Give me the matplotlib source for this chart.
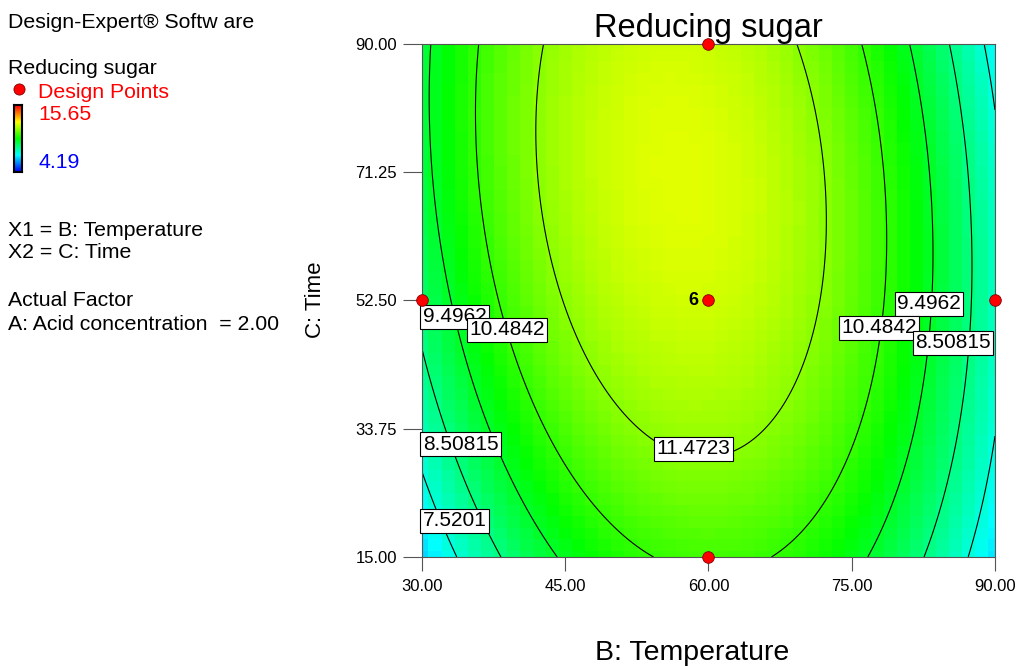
import numpy as np
import matplotlib
matplotlib.use("Agg")
import matplotlib.pyplot as plt
from matplotlib.colors import LinearSegmentedColormap
from matplotlib.lines import Line2D

plt.rcParams['font.family'] = ['Liberation Sans', 'DejaVu Sans']

# quadratic model in coded units (x1 = temperature, x2 = time), A fixed at 2.00
coef_names = ["b0", "b1", "b2", "b12", "b11", "b22"]
coef_vals = [12.25, -0.47, 0.76, -0.58, -3.93, -0.84]

temp_range = [30.0, 90.0]
time_range = [15.0, 90.0]
resp_min, resp_max = 4.19, 15.65

levels = [7.5201, 8.50815, 9.4962, 10.4842, 11.4723]

# design points (temperature, time)
pts_temp = [30, 60, 60, 90, 60]
pts_time = [52.5, 90, 52.5, 52.5, 15]

xticks = [30, 45, 60, 75, 90]
yticks = [15, 33.75, 52.5, 71.25, 90]

# contour label positions (temp, time, text, align)
lbl_temp = [30.1, 38.9, 83.1, 77.85, 85.6, 30.1, 30.1, 58.4]
lbl_time = [50.1, 48.2, 52.0, 48.5, 46.3, 31.5, 20.3, 30.8]
lbl_text = ["9.4962", "10.4842", "9.4962", "10.4842", "8.50815", "8.50815", "7.5201", "11.4723"]
lbl_ha = ["left", "center", "center", "center", "center", "left", "left", "center"]

c = dict(zip(coef_names, coef_vals))

def model(B, C):
    x1 = (B - 60.0) / 30.0
    x2 = (C - 52.5) / 37.5
    return (c["b0"] + c["b1"] * x1 + c["b2"] * x2 + c["b12"] * x1 * x2
            + c["b11"] * x1 ** 2 + c["b22"] * x2 ** 2)

cmap = LinearSegmentedColormap.from_list(
    "de", ["#0000ff", "#00ffff", "#00ff00", "#ffff00", "#ff0000"])

fig = plt.figure(figsize=(10.21, 6.66), dpi=100)
ax = fig.add_axes([0.4133, 0.1637, 0.5612, 0.7703])

# blocky shading like the original
bc = np.linspace(temp_range[0], temp_range[1], 45)
cc = np.linspace(time_range[0], time_range[1], 45)
BB, CC = np.meshgrid(bc, cc)
ax.pcolormesh(BB, CC, model(BB, CC), cmap=cmap, vmin=resp_min, vmax=resp_max,
              shading="nearest")

bf = np.linspace(temp_range[0], temp_range[1], 300)
cf = np.linspace(time_range[0], time_range[1], 300)
BF, CF = np.meshgrid(bf, cf)
ax.contour(BF, CF, model(BF, CF), levels=levels, colors="black", linewidths=0.8)

for t, tm, s, ha in zip(lbl_temp, lbl_time, lbl_text, lbl_ha):
    ax.text(t, tm, s, ha=ha, va="center", fontsize=15, zorder=5,
            bbox=dict(boxstyle="square,pad=0.12", fc="white", ec="black", lw=0.8))

ax.scatter(pts_temp, pts_time, s=70, c="red", edgecolors="#800000", linewidths=0.6,
           zorder=6, clip_on=False)
ax.text(58.9, 52.5, "6", ha="right", va="center", fontsize=13, fontweight="bold")

ax.set_xlim(temp_range)
ax.set_ylim(time_range)
ax.set_xticks(xticks)
ax.set_yticks(yticks)
ax.set_xticklabels([f"{v:.2f}" for v in xticks])
ax.set_yticklabels([f"{v:.2f}" for v in yticks])
ax.tick_params(axis="x", length=10, pad=6, labelsize=12, color="#555555")
ax.tick_params(axis="y", length=14, pad=4, labelsize=12, color="#555555")
for sp in ax.spines.values():
    sp.set_color("#555555")
    sp.set_linewidth(0.8)

ax.set_title("Reducing sugar", fontsize=23.5, pad=2)
fig.text(692 / 1021, 1 - 653 / 666, "B: Temperature", ha="center", va="center", fontsize=20.5)
fig.text(315 / 1021, 1 - 300 / 666, "C: Time", ha="center", va="center",
         fontsize=16, rotation=90)

# left side info panel
fs = 15.3
fig.text(8 / 1021, 1 - 22 / 666, "Design-Expert® Softw are", fontsize=fs, va="center")
fig.text(8 / 1021, 1 - 69 / 666, "Reducing sugar", fontsize=fs, va="center")
fig.add_artist(Line2D([19 / 1021], [1 - 89 / 666], transform=fig.transFigure,
                      marker="o", ms=8, mfc="red", mec="#800000", mew=0.6, ls="none"))
fig.text(38 / 1021, 1 - 92 / 666, "Design Points", fontsize=fs, va="center", color="red")
fig.text(38 / 1021, 1 - 114 / 666, f"{resp_max:.2f}", fontsize=fs, va="center", color="red")
fig.text(38 / 1021, 1 - 162 / 666, f"{resp_min:.2f}", fontsize=fs, va="center", color="blue")
fig.text(8 / 1021, 1 - 230 / 666, "X1 = B: Temperature", fontsize=fs, va="center")
fig.text(8 / 1021, 1 - 253 / 666, "X2 = C: Time", fontsize=fs, va="center")
fig.text(8 / 1021, 1 - 300 / 666, "Actual Factor", fontsize=fs, va="center")
fig.text(8 / 1021, 1 - 324 / 666, "A: Acid concentration  = 2.00", fontsize=fs, va="center")

cax = fig.add_axes([14 / 1021, 1 - 172 / 666, 8 / 1021, 67 / 666])
cax.imshow(np.linspace(1, 0, 100).reshape(-1, 1), cmap=cmap, aspect="auto")
cax.set_xticks([])
cax.set_yticks([])
for sp in cax.spines.values():
    sp.set_linewidth(1.5)

fig.savefig("out.png", dpi=100)
